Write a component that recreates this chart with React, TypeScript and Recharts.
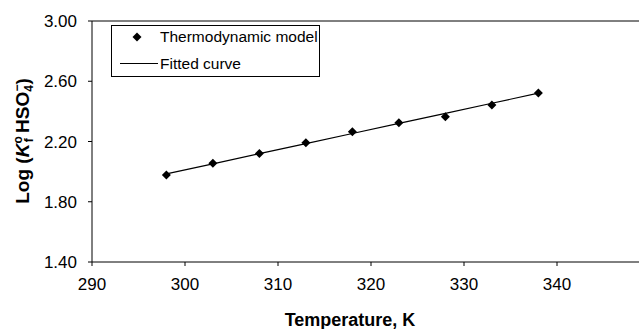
import React from 'react';
import { ComposedChart, Line, Scatter, XAxis, YAxis, ReferenceLine } from 'recharts';

const temperatures = [298, 303, 308, 313, 318, 323, 328, 333, 338];
const modelValues = [1.977, 2.055, 2.121, 2.192, 2.265, 2.325, 2.365, 2.442, 2.522];
const fittedValues = [1.985, 2.052, 2.119, 2.186, 2.253, 2.320, 2.387, 2.454, 2.521];
const xTicks = [290, 300, 310, 320, 330, 340];
const yTicks = [1.4, 1.8, 2.2, 2.6, 3.0];
const legendLabels = ['Thermodynamic model', 'Fitted curve'];

const data = temperatures.map((t, i) => ({ t, model: modelValues[i], fitted: fittedValues[i] }));

const FONT = '"Liberation Sans", Arial, sans-serif';

const Diamond = (props: any) => {
  const { cx, cy } = props;
  if (cx == null || cy == null) return null;
  const r = 4.5;
  return <polygon points={`${cx},${cy - r} ${cx + r},${cy} ${cx},${cy + r} ${cx - r},${cy}`} fill="#000" />;
};

const LegendBox = () => (
  <div
    style={{
      position: 'absolute',
      left: 111,
      top: 25,
      width: 209,
      height: 52,
      border: '1px solid #000',
      boxSizing: 'border-box',
      background: '#fff',
      fontFamily: FONT,
      fontSize: 15.5,
      color: '#000',
    }}
  >
    <svg width={60} height={50} style={{ position: 'absolute', left: 0, top: 0 }}>
      <polygon points="25,6.5 29.5,11 25,15.5 20.5,11" fill="#000" />
      <line x1={8} y1={37.5} x2={46} y2={37.5} stroke="#000" strokeWidth={1} />
    </svg>
    <div style={{ position: 'absolute', left: 48, top: 2, whiteSpace: 'nowrap', lineHeight: 'normal' }}>{legendLabels[0]}</div>
    <div style={{ position: 'absolute', left: 48, top: 28.5, whiteSpace: 'nowrap', lineHeight: 'normal' }}>{legendLabels[1]}</div>
  </div>
);

const YTitle = () => (
  <text
    x={0}
    y={0}
    transform="translate(29,141) rotate(-90)"
    textAnchor="middle"
    fontFamily={FONT}
    fontWeight="bold"
    fontSize={19}
    fill="#000"
  >
    <tspan>Log (</tspan>
    <tspan fontStyle="italic">K</tspan>
    <tspan fontSize={12} dy={-7}>o</tspan>
    <tspan fontSize={12} dy={11} dx={-6}>f</tspan>
    <tspan dy={-4}> HSO</tspan>
    <tspan fontSize={12} dy={4}>4</tspan>
    <tspan fontSize={12} dy={-12} dx={-6.5}>−</tspan>
    <tspan dy={8}>)</tspan>
  </text>
);

const XTitle = () => (
  <text x={350} y={326} textAnchor="middle" fontFamily={FONT} fontWeight="bold" fontSize={18} fill="#000">
    Temperature, K
  </text>
);

export default function App() {
  return (
    <div style={{ position: 'fixed', left: 0, top: 0, width: 639, height: 329, overflow: 'hidden', background: '#fff' }}>
      <ComposedChart width={652} height={329} data={data} margin={{ top: 21, right: 2, left: 0, bottom: 0 }}>
        <XAxis
          type="number"
          dataKey="t"
          domain={[290, 350]}
          ticks={xTicks}
          allowDataOverflow
          height={67}
          stroke="#000"
          tickSize={4}
          tickMargin={12}
          tick={{ fill: '#000', fontSize: 17, fontFamily: FONT }}
          label={<XTitle />}
        />
        <YAxis
          type="number"
          domain={[1.4, 3]}
          ticks={yTicks}
          width={92}
          stroke="#000"
          tickSize={4}
          tickMargin={11}
          tickFormatter={(v: number) => v.toFixed(2)}
          tick={{ fill: '#000', fontSize: 17, fontFamily: FONT }}
          label={<YTitle />}
        />
        <ReferenceLine y={3} stroke="#000" ifOverflow="visible" />
        <Line dataKey="fitted" stroke="#000" strokeWidth={1.2} dot={false} isAnimationActive={false} />
        <Scatter dataKey="model" fill="#000" shape={<Diamond />} isAnimationActive={false} />
      </ComposedChart>
      <LegendBox />
    </div>
  );
}
